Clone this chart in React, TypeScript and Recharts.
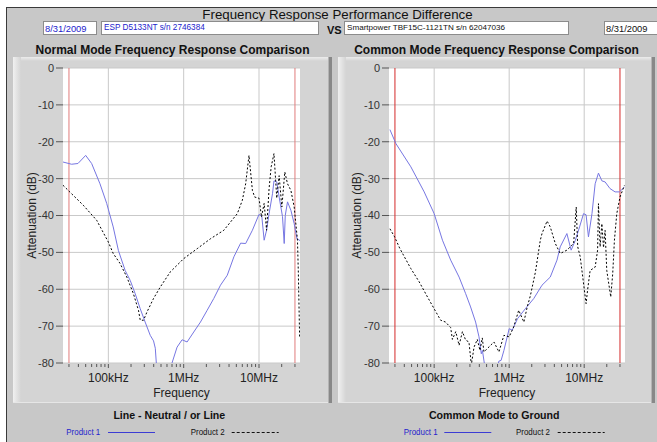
import React from 'react';
import { LineChart, Line, XAxis, YAxis, CartesianGrid, ReferenceLine, Label } from 'recharts';

// ---------- data ----------
const yTicks = [0, -10, -20, -30, -40, -50, -60, -70, -80];
const decadeTicks = [1e5, 1e6, 1e7];
const decadeLabels = ['100kHz', '1MHz', '10MHz'];
const minorTicks = [
  3e4, 4e4, 5e4, 6e4, 7e4, 8e4, 9e4,
  2e5, 3e5, 4e5, 5e5, 6e5, 7e5, 8e5, 9e5,
  2e6, 3e6, 4e6, 5e6, 6e6, 7e6, 8e6, 9e6,
  2e7, 3e7,
];
const limitFreqs = [3e4, 3e7];
const freqDomain = [25000, 35000000];

// Normal mode, Product 1
const nmP1Freq = [25000, 32500, 39500, 50000, 60000, 77400, 95000, 116000, 136000, 167000, 195000, 227000, 265000, 308000, 360000, 398000, 420000, 440000, 536000, 700000, 817000, 953000, 1110000, 1360000, 1670000, 2050000, 2510000, 3080000, 3790000, 4640000, 5700000, 6650000, 8170000, 10000000, 10900000, 11700000, 12600000, 13600000, 15100000, 15800000, 17200000, 18500000, 20500000, 21600000, 22300000, 23900000, 26500000, 29300000, 31900000, 35000000];
const nmP1Db = [-25.5, -26.1, -25.9, -23.7, -25.9, -31.4, -36.7, -43.1, -49.5, -54.9, -57.6, -61.2, -65.3, -68.9, -72.5, -74, -76, -82, -86, -80, -75.7, -73.7, -74.3, -71.6, -68.9, -65.7, -62.5, -58.9, -56.2, -51.2, -47.5, -47.6, -44.0, -39.7, -40.3, -46.7, -44, -39.5, -34.1, -30.6, -30.9, -35, -40.3, -47.6, -40, -36.3, -38.6, -42.2, -46.3, -46.8];

// Normal mode, Product 2
const nmP2Freq = [25000, 32500, 46400, 70000, 100000, 116000, 143000, 176000, 215000, 251000, 265000, 293000, 325000, 398000, 489000, 664000, 1000000, 1510000, 2270000, 3410000, 5150000, 6000000, 6650000, 7360000, 8170000, 8760000, 10000000, 10800000, 11700000, 12600000, 13600000, 14500000, 15800000, 17200000, 18500000, 20100000, 22000000, 23900000, 26500000, 29300000, 32400000, 33300000, 34600000];
const nmP2Db = [-31.8, -34.1, -37.2, -41.3, -47.2, -50.3, -53, -56.7, -61.2, -65.7, -68.4, -68.4, -66.2, -62.5, -59.4, -55.3, -51.7, -49, -46.3, -44, -39.5, -35.9, -31.4, -23.7, -33.2, -35, -35.3, -40.4, -36.7, -44, -32.7, -26.8, -23.2, -35.3, -29.2, -37.7, -28.2, -31.4, -33.2, -37.7, -46.7, -55.8, -73];

// Common mode, Product 1
const cmP1Freq = [25700, 30900, 48900, 73600, 100000, 129000, 166000, 215000, 263000, 306000, 357000, 396000, 425000, 440000, 470000, 520000, 650000, 729000, 780000, 851000, 1000000, 1100000, 1290000, 1640000, 2130000, 2740000, 3530000, 4340000, 4790000, 5880000, 6700000, 7600000, 8680000, 9800000, 10600000, 11400000, 12700000, 14000000, 15500000, 17200000, 19000000, 22100000, 25800000, 29500000, 34400000];
const cmP1Db = [-16.7, -20.5, -26.8, -33.6, -39.5, -46.7, -52.1, -56.7, -61.2, -64.8, -68.9, -72.9, -77.5, -76.6, -80.5, -84, -84, -79.5, -79.3, -76.6, -70.7, -71.1, -68, -65.3, -62.5, -58.9, -56.7, -52.1, -48.5, -44.9, -49.4, -46.8, -43.1, -39.5, -39.8, -45.8, -39.5, -31.4, -28.5, -30.6, -30.9, -32.7, -33.6, -33.6, -32.3];

// Common mode, Product 2
const cmP2Freq = [25700, 29700, 34600, 37900, 48900, 63200, 81500, 100000, 122000, 142000, 166000, 175000, 194000, 215000, 238000, 263000, 291000, 313000, 340000, 376000, 408000, 438000, 461000, 510000, 627000, 730000, 851000, 1000000, 1150000, 1340000, 1570000, 1740000, 1920000, 2240000, 2600000, 2740000, 3200000, 3530000, 4120000, 4790000, 5880000, 7230000, 7830000, 8200000, 8850000, 10000000, 10600000, 11100000, 12000000, 14000000, 15100000, 15500000, 16300000, 17200000, 18100000, 19000000, 20000000, 22600000, 24000000, 25300000, 27200000, 30000000, 34400000];
const cmP2Db = [-43.6, -45.8, -48.8, -50.3, -54.4, -58, -62.1, -65.3, -68.4, -68.9, -70.4, -73.6, -71.5, -75.2, -71.5, -73.8, -74.3, -80.5, -75.7, -73.6, -76.6, -73.2, -77, -76.1, -74.3, -77, -72.5, -72.9, -70.2, -65.7, -68.9, -64.8, -61.7, -55.3, -46.7, -44.9, -41.5, -43.1, -47.6, -50.3, -49.4, -47.6, -37.7, -48.5, -51.2, -59.8, -63.9, -60.2, -54.9, -54, -49.4, -36.8, -48.5, -42.2, -48.7, -44, -54.9, -62.1, -55.8, -46.7, -39.5, -35, -31.8];

// ---------- helpers ----------
const zip = (f: number[], v: number[]) => f.map((x, i) => ({ f: x, v: v[i] }));
const allXTicks = [...minorTicks, ...decadeTicks].sort((a, b) => a - b);
const FONT = "'Liberation Sans', Arial, sans-serif";
const P1_COLOR = '#7676e2';

const XTick = (props: any) => {
  const { x, y, payload } = props;
  const idx = decadeTicks.indexOf(payload.value);
  const major = idx >= 0;
  return (
    <g>
      <line x1={x} x2={x} y1={y + 1} y2={y + (major ? 5 : 4)} stroke="#555" />
      {major && (
        <text x={x} y={y + 19} textAnchor="middle" fontSize={12} fill="#222" fontFamily={FONT}>
          {decadeLabels[idx]}
        </text>
      )}
    </g>
  );
};

type ChartProps = {
  p1: { f: number; v: number }[];
  p2: { f: number; v: number }[];
  width: number;
  yWidth: number;
  right: number;
  limitColor: string;
};

const Chart = ({ p1, p2, width, yWidth, right, limitColor }: ChartProps) => (
  <LineChart width={width} height={346} margin={{ top: 11, right, bottom: 0, left: 0 }} style={{ fontFamily: FONT }}>
    <CartesianGrid vertical={false} stroke="#c9c9c9" fill="#ffffff" fillOpacity={1} />
    <XAxis
      dataKey="f"
      type="number"
      scale="log"
      domain={freqDomain}
      allowDataOverflow
      ticks={allXTicks}
      interval={0}
      tick={<XTick />}
      tickLine={false}
      axisLine={false}
      tickSize={0}
      tickMargin={0}
      height={40}
    >
      <Label value="Frequency" position="insideBottom" offset={6} fontSize={12} fill="#222" />
    </XAxis>
    <YAxis
      type="number"
      domain={[-80, 0]}
      ticks={yTicks}
      allowDataOverflow
      interval={0}
      width={yWidth}
      tickSize={7}
      tickMargin={2}
      axisLine={false}
      tickLine={{ stroke: '#555' }}
      tick={{ fontSize: 11, fill: '#333' }}
    >
      <Label value="Attenuation (dB)" angle={-90} position="insideLeft" offset={19} fontSize={12} fill="#222" style={{ textAnchor: 'middle' }} />
    </YAxis>
    {decadeTicks.map((d) => (
      <ReferenceLine key={'g' + d} x={d} stroke="#c9c9c9" />
    ))}
    {limitFreqs.map((d) => (
      <ReferenceLine key={'l' + d} x={d} stroke={limitColor} />
    ))}
    <Line data={p1} dataKey="v" type="linear" stroke={P1_COLOR} strokeWidth={1} dot={false} activeDot={false} isAnimationActive={false} />
    <Line data={p2} dataKey="v" type="linear" stroke="#000" strokeWidth={1} strokeDasharray="2 2" dot={false} activeDot={false} isAnimationActive={false} />
  </LineChart>
);

const Panel = ({ x, y, w, h }: { x: number; y: number; w: number; h: number }) => (
  <g>
    <rect x={x} y={y} width={w} height={h} fill="#d4d4d4" />
    <rect x={x} y={y} width={w} height={4} fill="url(#bevT)" />
    <rect x={x} y={y} width={8} height={h} fill="url(#bevL)" />
    <rect x={x + w - 4} y={y} width={1} height={h} fill="#b4b4b4" />
    <rect x={x + w - 3} y={y} width={3} height={h} fill="#888888" />
    <rect x={x} y={y + h - 1} width={w - 4} height={1} fill="#e6e6e6" />
  </g>
);

const Legend = ({ cx, title, p1x, l1x, p2x, l2x }: { cx: number; title: string; p1x: number; l1x: number; p2x: number; l2x: number }) => (
  <g fontFamily={FONT}>
    <text x={cx} y={418.5} textAnchor="middle" fontSize={10.6} fontWeight="bold" fill="#111">{title}</text>
    <text x={p1x} y={435} fontSize={9.5} fill="#2424cc" textLength={34} lengthAdjust="spacingAndGlyphs">Product 1</text>
    <line x1={l1x} x2={l1x + 47} y1={432.5} y2={432.5} stroke="#3c3cd4" />
    <text x={p2x} y={435} fontSize={9.5} fill="#111" textLength={34} lengthAdjust="spacingAndGlyphs">Product 2</text>
    <line x1={l2x} x2={l2x + 47} y1={432.5} y2={432.5} stroke="#111" strokeDasharray="3 2" />
  </g>
);

export default function App() {
  return (
    <div style={{ position: 'absolute', left: 0, top: 0, width: 657, height: 442, overflow: 'hidden', background: '#fff' }}>
      <svg width={657} height={442} style={{ position: 'absolute', left: 0, top: 0 }}>
        <defs>
          <linearGradient id="bevL" x1="0" x2="1" y1="0" y2="0">
            <stop offset="0" stopColor="#f0f0f0" />
            <stop offset="1" stopColor="#d4d4d4" />
          </linearGradient>
          <linearGradient id="bevT" x1="0" x2="0" y1="0" y2="1">
            <stop offset="0" stopColor="#ececec" />
            <stop offset="1" stopColor="#d4d4d4" />
          </linearGradient>
        </defs>
        <rect x={0} y={0} width={657} height={442} fill="#ffffff" />
        <rect x={6} y={7} width={651} height={435} fill="#c8c8c8" />
        <line x1={6.5} y1={7} x2={6.5} y2={442} stroke="#3a3a3a" />
        <line x1={6} y1={7.5} x2={657} y2={7.5} stroke="#3a3a3a" />

        <g fontFamily={FONT}>
          <text x={337.5} y={19} textAnchor="middle" fontSize={13.3} fill="#111">Frequency Response Performance Difference</text>

          <rect x={43.5} y={21.5} width={53} height={13} fill="#fff" stroke="#8c8c8c" />
          <text x={45} y={32} fontSize={9.6} fill="#2222cc" textLength={41.5} lengthAdjust="spacingAndGlyphs">8/31/2009</text>

          <rect x={101.5} y={21.5} width={217} height={13} fill="#fff" stroke="#8c8c8c" />
          <text x={104} y={29.5} fontSize={8.2} fill="#2222cc">ESP D5133NT s/n 2746384</text>

          <text x={327} y={34} fontSize={11} fontWeight="bold" fill="#111">VS</text>

          <rect x={344.5} y={21.5} width={224} height={13} fill="#fff" stroke="#8c8c8c" />
          <text x={347} y={29.5} fontSize={8.1} fill="#111">Smartpower TBF15C-1121TN s/n 62047036</text>

          <rect x={604.5} y={21.5} width={60} height={13} fill="#fff" stroke="#8c8c8c" />
          <text x={606} y={32} fontSize={9.6} fill="#111" textLength={41.5} lengthAdjust="spacingAndGlyphs">8/31/2009</text>

          <text x={172.5} y={53.5} textAnchor="middle" fontSize={12} fontWeight="bold" fill="#111">Normal Mode Frequency Response Comparison</text>
          <text x={496.5} y={53.5} textAnchor="middle" fontSize={12} fontWeight="bold" fill="#111">Common Mode Frequency Response Comparison</text>
        </g>

        <Panel x={13} y={57} w={319} h={346} />
        <Panel x={338} y={57} w={317} h={346} />

        <Legend cx={169.3} title="Line - Neutral / or Line" p1x={66.3} l1x={108} p2x={190.7} l2x={231.7} />
        <Legend cx={494.2} title="Common Mode to Ground" p1x={403.7} l1x={444.3} p2x={516} l2x={557.7} />
      </svg>

      <div style={{ position: 'absolute', left: 13, top: 57 }}>
        <Chart p1={zip(nmP1Freq, nmP1Db)} p2={zip(nmP2Freq, nmP2Db)} width={319} yWidth={50} right={32} limitColor="#e07c7c" />
      </div>
      <div style={{ position: 'absolute', left: 338, top: 57 }}>
        <Chart p1={zip(cmP1Freq, cmP1Db)} p2={zip(cmP2Freq, cmP2Db)} width={317} yWidth={51} right={30} limitColor="#d42a2a" />
      </div>
    </div>
  );
}
